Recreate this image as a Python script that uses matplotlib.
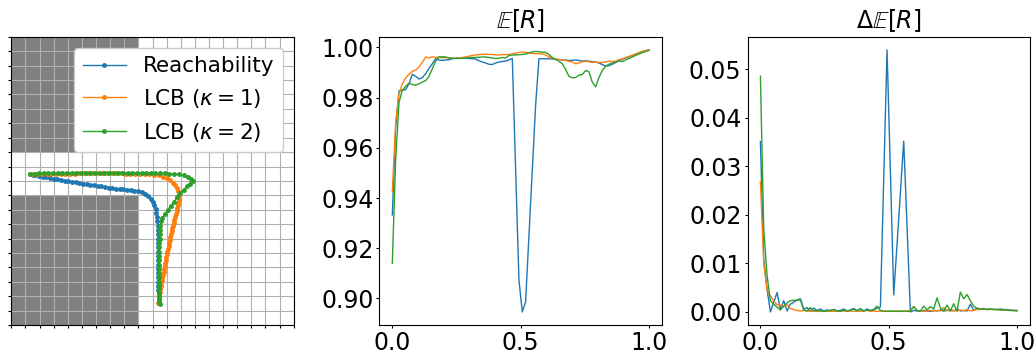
import numpy as np
import matplotlib
matplotlib.use("Agg")
import matplotlib.pyplot as plt
from matplotlib.colors import ListedColormap

# mapa do ambiente (linha 0 = topo), '#' = obstaculo
grid_map = [
    "#########...........",
    "#########...........",
    "#########...........",
    "#########...........",
    "#########...........",
    "#########...........",
    "#########...........",
    "#########...........",
    "....................",
    "....................",
    "....................",
    "#########...........",
    "#########...........",
    "#########...........",
    "#########...........",
    "#########...........",
    "#########...........",
    "#########...........",
    "#########...........",
    "#########...........",
]

labels = ["Reachability", r"LCB ($\kappa=1$)", r"LCB ($\kappa=2$)"]
colors = ["tab:blue", "tab:orange", "tab:green"]

# trajetorias (unidades da grade)
reach_x = [10.45, 10.44, 10.43, 10.42, 10.41, 10.40, 10.40, 10.40, 10.40, 10.40, 10.41, 10.41, 10.41, 10.41,
           10.41, 10.41, 10.40, 10.39, 10.37, 10.35, 10.32, 10.28, 10.22, 10.14, 10.03, 9.88, 9.70, 9.48,
           9.24, 8.98, 8.72, 8.46, 8.20, 7.94, 7.68, 7.42, 7.16, 6.90, 6.64, 6.38, 6.12, 5.86, 5.60, 5.34,
           5.08, 4.82, 4.56, 4.30, 4.04, 3.78, 3.52, 3.26, 3.00, 2.74, 2.48, 2.22, 1.96, 1.70, 1.50, 1.35]
reach_y = [1.50, 1.80, 2.10, 2.40, 2.70, 3.00, 3.30, 3.60, 3.90, 4.20, 4.50, 4.80, 5.10, 5.40,
           5.70, 6.00, 6.30, 6.60, 6.90, 7.20, 7.50, 7.80, 8.05, 8.30, 8.55, 8.78, 8.97, 9.12,
           9.22, 9.29, 9.33, 9.36, 9.38, 9.41, 9.44, 9.47, 9.50, 9.54, 9.58, 9.62, 9.66, 9.70, 9.74, 9.78,
           9.82, 9.86, 9.90, 9.94, 9.98, 10.03, 10.07, 10.11, 10.15, 10.19, 10.24, 10.29, 10.34, 10.39, 10.44, 10.47]

lcb1_x = [10.41, 10.43, 10.46, 10.49, 10.52, 10.55, 10.58, 10.62, 10.66, 10.70, 10.74, 10.78, 10.82, 10.86,
          10.90, 10.94, 10.98, 11.02, 11.06, 11.10, 11.14, 11.18, 11.22, 11.26, 11.30, 11.35, 11.40, 11.45,
          11.50, 11.55, 11.60, 11.65, 11.70, 11.75, 11.80, 11.84, 11.87, 11.89, 11.88, 11.82, 11.72, 11.60,
          11.45, 11.25, 11.02, 10.75, 10.45, 10.12, 9.78, 9.44, 9.10, 8.77, 8.44, 8.11, 7.78, 7.45, 7.12,
          6.79, 6.46, 6.13, 5.80, 5.47, 5.14, 4.81, 4.48, 4.15, 3.82, 3.49, 3.16, 2.83, 2.50, 2.17, 1.84,
          1.55, 1.35]
lcb1_y = [1.50, 1.70, 1.90, 2.10, 2.30, 2.50, 2.70, 2.90, 3.10, 3.30, 3.50, 3.70, 3.90, 4.10,
          4.30, 4.50, 4.70, 4.90, 5.10, 5.30, 5.50, 5.70, 5.90, 6.10, 6.30, 6.50, 6.70, 6.90,
          7.10, 7.30, 7.50, 7.70, 7.90, 8.10, 8.30, 8.50, 8.70, 8.90, 9.10, 9.30, 9.50, 9.70,
          9.88, 10.05, 10.20, 10.30, 10.38, 10.43, 10.46, 10.48, 10.49, 10.50, 10.51, 10.51, 10.52, 10.52, 10.52,
          10.52, 10.52, 10.52, 10.52, 10.52, 10.52, 10.52, 10.51, 10.51, 10.51, 10.50, 10.50, 10.50, 10.49, 10.49, 10.48,
          10.48, 10.47]

lcb2_x = [10.50, 10.49, 10.48, 10.47, 10.46, 10.45, 10.45, 10.44, 10.44, 10.44, 10.44, 10.44, 10.45, 10.46,
          10.47, 10.48, 10.49, 10.50, 10.51, 10.52, 10.54, 10.58, 10.70, 10.88, 11.08, 11.30, 11.52, 11.75,
          11.98, 12.20, 12.45, 12.68, 12.85, 12.75, 12.50, 12.20, 11.88, 11.55, 11.20, 10.87, 10.54, 10.21,
          9.88, 9.55, 9.22, 8.89, 8.56, 8.23, 7.90, 7.57, 7.24, 6.91, 6.58, 6.25, 5.92, 5.59, 5.26, 4.93,
          4.60, 4.27, 3.94, 3.61, 3.28, 2.95, 2.62, 2.29, 1.96, 1.65, 1.35]
lcb2_y = [1.46, 1.60, 1.80, 2.00, 2.25, 2.50, 2.75, 3.00, 3.30, 3.60, 3.90, 4.20, 4.50, 4.80,
          5.10, 5.40, 5.70, 6.00, 6.30, 6.60, 6.90, 7.20, 7.45, 7.72, 8.00, 8.28, 8.57, 8.86,
          9.13, 9.38, 9.62, 9.82, 9.97, 10.15, 10.30, 10.40, 10.45, 10.48, 10.50, 10.52, 10.53, 10.54,
          10.55, 10.55, 10.56, 10.56, 10.57, 10.57, 10.57, 10.57, 10.57, 10.57, 10.57, 10.57, 10.57, 10.56, 10.56, 10.56,
          10.56, 10.55, 10.55, 10.55, 10.54, 10.54, 10.53, 10.53, 10.52, 10.50, 10.47]

# recompensa esperada E[R]
reach_mean = [0.9333, 0.9680, 0.9827, 0.9829, 0.9832, 0.9855, 0.9893, 0.9885, 0.9874, 0.9880,
              0.9895, 0.9916, 0.9935, 0.9955, 0.9950, 0.9948, 0.9950, 0.9951, 0.9955, 0.9957,
              0.9958, 0.9958, 0.9957, 0.9956, 0.9955, 0.9954, 0.9947, 0.9942, 0.9938, 0.9933,
              0.9932, 0.9938, 0.9942, 0.9944, 0.9946, 0.9950, 0.9956, 0.9515, 0.9073, 0.8946,
              0.8987, 0.9250, 0.9510, 0.9770, 0.9955, 0.9955, 0.9955, 0.9955, 0.9954, 0.9953,
              0.9952, 0.9950, 0.9950, 0.9948, 0.9949, 0.9950, 0.9948, 0.9946, 0.9947, 0.9945,
              0.9943, 0.9942, 0.9938, 0.9932, 0.9926, 0.9927, 0.9933, 0.9940, 0.9948, 0.9953,
              0.9958, 0.9963, 0.9968, 0.9973, 0.9979, 0.9983, 0.9987, 0.9990]
lcb1_mean = [0.9425, 0.9700, 0.9815, 0.9855, 0.9878, 0.9893, 0.9905, 0.9910, 0.9922, 0.9940,
             0.9962, 0.9958, 0.9963, 0.9960, 0.9962, 0.9958, 0.9960, 0.9958, 0.9957, 0.9956,
             0.9958, 0.9960, 0.9962, 0.9965, 0.9968, 0.9970, 0.9972, 0.9972, 0.9973, 0.9972,
             0.9972, 0.9970, 0.9970, 0.9972, 0.9971, 0.9972, 0.9974, 0.9977, 0.9980, 0.9982,
             0.9980, 0.9978, 0.9976, 0.9975, 0.9975, 0.9974, 0.9970, 0.9962, 0.9957, 0.9954,
             0.9952, 0.9950, 0.9948, 0.9945, 0.9942, 0.9935, 0.9938, 0.9943, 0.9945, 0.9943,
             0.9940, 0.9942, 0.9940, 0.9940, 0.9942, 0.9945, 0.9944, 0.9946, 0.9950, 0.9955,
             0.9960, 0.9964, 0.9969, 0.9974, 0.9979, 0.9984, 0.9987, 0.9990]
lcb2_mean = [0.9140, 0.9550, 0.9780, 0.9830, 0.9845, 0.9857, 0.9852, 0.9850, 0.9855, 0.9862,
             0.9868, 0.9885, 0.9915, 0.9945, 0.9962, 0.9963, 0.9962, 0.9958, 0.9957, 0.9956,
             0.9956, 0.9957, 0.9958, 0.9959, 0.9960, 0.9960, 0.9961, 0.9962, 0.9962, 0.9960,
             0.9958, 0.9956, 0.9957, 0.9960, 0.9958, 0.9968, 0.9970, 0.9970, 0.9971, 0.9972,
             0.9974, 0.9978, 0.9982, 0.9984, 0.9983, 0.9981, 0.9980, 0.9972, 0.9960, 0.9952,
             0.9945, 0.9935, 0.9912, 0.9885, 0.9879, 0.9880, 0.9890, 0.9892, 0.9908, 0.9903,
             0.9862, 0.9843, 0.9880, 0.9908, 0.9925, 0.9933, 0.9938, 0.9942, 0.9946, 0.9944,
             0.9950, 0.9956, 0.9962, 0.9968, 0.9974, 0.9979, 0.9984, 0.9988]

# variacao Delta E[R]
reach_delta = [0.0351, 0.0108, 0.0047, 0.0000, 0.0020, 0.0040, 0.0005, 0.0023, 0.0002, 0.0016,
               0.0020, 0.0025, 0.0027, 0.0005, 0.0009, 0.0002, 0.0008, 0.0003, 0.0006, 0.0002,
               0.0004, 0.0003, 0.0005, 0.0002, 0.0003, 0.0006, 0.0002, 0.0004, 0.0007, 0.0003,
               0.0005, 0.0002, 0.0006, 0.0003, 0.0004, 0.0008, 0.0010, 0.0275, 0.0540, 0.0290,
               0.0035, 0.0140, 0.0245, 0.0352, 0.0176, 0.0000, 0.0003, 0.0002, 0.0001, 0.0003,
               0.0002, 0.0001, 0.0003, 0.0002, 0.0004, 0.0002, 0.0003, 0.0005, 0.0002, 0.0006,
               0.0002, 0.0003, 0.0002, 0.0016, 0.0003, 0.0008, 0.0006, 0.0007, 0.0005, 0.0006,
               0.0005, 0.0005, 0.0006, 0.0005, 0.0005, 0.0004, 0.0003, 0.0003]
lcb1_delta = [0.0269, 0.0100, 0.0045, 0.0033, 0.0022, 0.0015, 0.0014, 0.0012, 0.0015, 0.0007,
              0.0005, 0.0003, 0.0002, 0.0003, 0.0002, 0.0001, 0.0002, 0.0001, 0.0002, 0.0001,
              0.0002, 0.0001, 0.0001, 0.0002, 0.0001, 0.0002, 0.0001, 0.0002, 0.0001, 0.0002,
              0.0001, 0.0002, 0.0003, 0.0001, 0.0002, 0.0001, 0.0002, 0.0001, 0.0002, 0.0001,
              0.0002, 0.0001, 0.0002, 0.0001, 0.0002, 0.0003, 0.0011, 0.0003, 0.0002, 0.0001,
              0.0002, 0.0003, 0.0002, 0.0003, 0.0002, 0.0009, 0.0003, 0.0002, 0.0003, 0.0002,
              0.0004, 0.0002, 0.0005, 0.0002, 0.0003, 0.0005, 0.0005, 0.0006, 0.0005, 0.0005,
              0.0005, 0.0005, 0.0004, 0.0004, 0.0004, 0.0003, 0.0003, 0.0003]
lcb2_delta = [0.0486, 0.0170, 0.0075, 0.0023, 0.0016, 0.0010, 0.0004, 0.0012, 0.0019, 0.0023,
              0.0024, 0.0024, 0.0025, 0.0004, 0.0002, 0.0009, 0.0002, 0.0003, 0.0002, 0.0001,
              0.0002, 0.0003, 0.0005, 0.0002, 0.0001, 0.0004, 0.0002, 0.0003, 0.0006, 0.0002,
              0.0007, 0.0002, 0.0004, 0.0003, 0.0005, 0.0012, 0.0003, 0.0002, 0.0001, 0.0002,
              0.0001, 0.0002, 0.0001, 0.0002, 0.0001, 0.0002, 0.0011, 0.0003, 0.0002, 0.0012,
              0.0004, 0.0011, 0.0006, 0.0029, 0.0008, 0.0002, 0.0014, 0.0002, 0.0017, 0.0002,
              0.0041, 0.0027, 0.0036, 0.0023, 0.0012, 0.0007, 0.0006, 0.0006, 0.0005, 0.0006,
              0.0005, 0.0005, 0.0004, 0.0004, 0.0004, 0.0003, 0.0003, 0.0002]

alphas = np.linspace(0, 1, len(reach_mean))  # eixo x dos graficos da direita

plt.rcParams["font.size"] = 17
plt.rcParams["xtick.major.size"] = 2.3
plt.rcParams["ytick.major.size"] = 2.3
plt.rcParams["xtick.major.pad"] = 2.0
plt.rcParams["ytick.major.pad"] = 2.0

fig, axes = plt.subplots(1, 3, figsize=(10.34, 3.51), dpi=100)
fig.subplots_adjust(left=0.011, right=0.996, bottom=0.074, top=0.895, wspace=0.304)

# painel 1: mapa + trajetorias
ax = axes[0]
occ = np.array([[1 if c == "#" else 0 for c in row] for row in grid_map])
ax.imshow(occ, cmap=ListedColormap(["white", "#808080"]), extent=(0, 20, 0, 20),
          origin="upper", aspect="auto", interpolation="nearest")
trajs = [(reach_x, reach_y), (lcb1_x, lcb1_y), (lcb2_x, lcb2_y)]
for (tx, ty), lab, col in zip(trajs, labels, colors):
    ax.plot(tx, ty, marker=".", markersize=5, linewidth=1, color=col, label=lab)
ax.set_xticks(range(21))
ax.set_yticks(range(21))
ax.tick_params(labelbottom=False, labelleft=False)
ax.grid(True)
ax.set_xlim(0, 20)
ax.set_ylim(0, 20)
ax.legend(loc="upper right", fontsize=15.5, framealpha=1)

# painel 2: E[R]
ax = axes[1]
for vals, col in zip([reach_mean, lcb1_mean, lcb2_mean], colors):
    ax.plot(alphas, vals, color=col, linewidth=1)
ax.set_title(r"$\mathbb{E}[R]$", fontsize=17)
ax.set_xticks([0, 0.5, 1.0])

# painel 3: Delta E[R]
ax = axes[2]
for vals, col in zip([reach_delta, lcb1_delta, lcb2_delta], colors):
    ax.plot(alphas, vals, color=col, linewidth=1)
ax.set_title(r"$\Delta\mathbb{E}[R]$", fontsize=17)
ax.set_xticks([0, 0.5, 1.0])

fig.savefig("out.png", dpi=100)
